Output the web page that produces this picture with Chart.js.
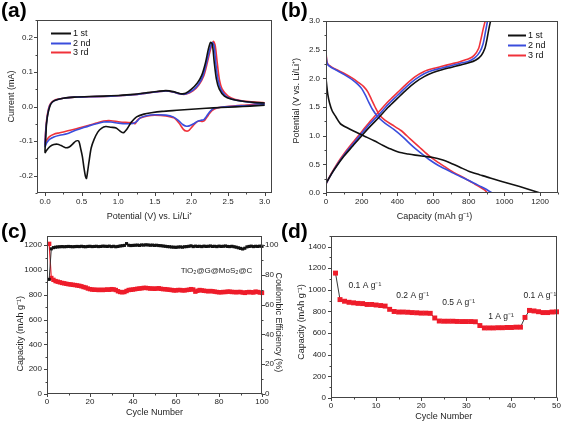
<!DOCTYPE html>
<html><head><meta charset="utf-8">
<script src="https://cdn.jsdelivr.net/npm/chart.js@4.4.1/dist/chart.umd.min.js"></script>
<style>
html,body{margin:0;padding:0;background:#fff;}
#wrap{position:relative;width:564px;height:423px;overflow:hidden;background:#fff;}
canvas{position:absolute;}
.lbl{position:absolute;font:bold 21px "Liberation Sans",Arial,sans-serif;color:#000;line-height:21px;}
</style></head><body>
<div id="wrap">
<canvas id="ca" width="282" height="226" style="left:0;top:0"></canvas>
<canvas id="cb" width="282" height="226" style="left:282px;top:0"></canvas>
<canvas id="cc" width="300" height="197" style="left:0;top:226px"></canvas>
<canvas id="cd" width="282" height="197" style="left:282px;top:226px"></canvas>
<div class="lbl" style="left:1px;top:-1px">(a)</div>
<div class="lbl" style="left:281px;top:-1px">(b)</div>
<div class="lbl" style="left:1px;top:220px">(c)</div>
<div class="lbl" style="left:281px;top:220px">(d)</div>
</div>
<script>
// ---------- DATA ----------
// (a) CV curves: potential (V) and current (mA), cathodic 3.0 -> 0 then anodic 0 -> 3.0
const cv1V = [3.0,2.8,2.6,2.4,2.2,2.0,1.8,1.6,1.45,1.35,1.25,1.18,1.12,1.07,1.03,0.97,0.9,0.83,0.77,0.72,0.67,0.63,0.6,0.58,0.565,0.55,0.53,0.51,0.49,0.46,0.42,0.38,0.33,0.28,0.22,0.17,0.12,0.07,0.03,0.0,
  0.01,0.02,0.04,0.07,0.1,0.15,0.25,0.4,0.6,0.8,1.0,1.2,1.4,1.55,1.65,1.75,1.85,1.92,2.0,2.08,2.14,2.19,2.23,2.26,2.285,2.31,2.34,2.38,2.45,2.55,2.7,2.85,3.0];
const cv1I = [0.004,0.001,-0.001,-0.003,-0.005,-0.008,-0.011,-0.014,-0.018,-0.022,-0.03,-0.045,-0.065,-0.076,-0.072,-0.062,-0.06,-0.058,-0.063,-0.074,-0.095,-0.12,-0.16,-0.19,-0.208,-0.2,-0.175,-0.145,-0.125,-0.1,-0.1,-0.108,-0.117,-0.119,-0.113,-0.109,-0.11,-0.115,-0.124,-0.133,
  -0.09,-0.05,-0.02,0.003,0.013,0.019,0.024,0.027,0.029,0.03,0.032,0.035,0.04,0.044,0.046,0.043,0.037,0.038,0.05,0.068,0.09,0.125,0.165,0.185,0.18,0.13,0.08,0.05,0.03,0.021,0.015,0.012,0.01];
const cv2V = [3.0,2.8,2.6,2.4,2.3,2.25,2.2,2.17,2.13,2.08,2.03,1.97,1.93,1.88,1.82,1.75,1.65,1.5,1.4,1.3,1.25,1.2,1.1,1.0,0.9,0.8,0.7,0.6,0.5,0.4,0.3,0.2,0.12,0.06,0.02,0.0,
  0.01,0.03,0.06,0.1,0.15,0.25,0.4,0.6,0.8,1.0,1.2,1.4,1.55,1.65,1.75,1.85,1.93,2.02,2.1,2.16,2.21,2.25,2.285,2.31,2.33,2.36,2.4,2.47,2.57,2.7,2.85,3.0];
const cv2I = [0.006,0.003,0.001,-0.002,-0.006,-0.015,-0.03,-0.038,-0.04,-0.043,-0.05,-0.056,-0.057,-0.052,-0.04,-0.03,-0.025,-0.024,-0.026,-0.033,-0.044,-0.049,-0.05,-0.048,-0.045,-0.045,-0.05,-0.056,-0.063,-0.07,-0.079,-0.083,-0.088,-0.095,-0.106,-0.116,
  -0.07,-0.03,0.0,0.013,0.019,0.024,0.027,0.028,0.029,0.031,0.034,0.039,0.043,0.045,0.042,0.036,0.037,0.047,0.065,0.09,0.13,0.165,0.185,0.175,0.13,0.08,0.05,0.03,0.02,0.015,0.011,0.008];
const cv3V = [3.0,2.8,2.6,2.45,2.35,2.28,2.23,2.18,2.15,2.11,2.07,2.02,1.97,1.93,1.89,1.83,1.76,1.65,1.5,1.4,1.3,1.26,1.23,1.2,1.1,1.0,0.9,0.8,0.7,0.6,0.5,0.4,0.3,0.2,0.12,0.06,0.02,0.0,
  0.01,0.03,0.06,0.1,0.15,0.25,0.4,0.6,0.8,1.0,1.2,1.4,1.55,1.65,1.75,1.85,1.93,2.02,2.1,2.17,2.22,2.26,2.3,2.325,2.35,2.38,2.42,2.5,2.6,2.75,2.9,3.0];
const cv3I = [0.01,0.005,0.002,-0.001,-0.004,-0.012,-0.025,-0.04,-0.043,-0.042,-0.045,-0.056,-0.068,-0.071,-0.066,-0.048,-0.033,-0.027,-0.025,-0.027,-0.033,-0.04,-0.05,-0.047,-0.046,-0.044,-0.041,-0.042,-0.048,-0.054,-0.06,-0.066,-0.071,-0.076,-0.08,-0.087,-0.098,-0.11,
  -0.065,-0.025,0.003,0.014,0.02,0.024,0.027,0.028,0.029,0.031,0.034,0.039,0.043,0.045,0.042,0.036,0.036,0.045,0.062,0.09,0.13,0.165,0.188,0.175,0.13,0.08,0.05,0.03,0.02,0.015,0.012,0.011];

// (b) galvanostatic curves: capacity (mAh/g) and potential (V)
const b1DisC = [0,4,10,20,35,55,80,110,175,230,270,320,360,410,460,500,550,600,650,700,750,800,860,920,980,1050,1120,1200];
const b1DisV = [2.0,1.88,1.72,1.57,1.43,1.33,1.21,1.15,1.05,0.97,0.91,0.83,0.77,0.71,0.68,0.66,0.64,0.62,0.58,0.52,0.45,0.38,0.32,0.26,0.205,0.145,0.08,0.0];
const b1ChgC = [0,10,30,60,100,150,200,250,300,350,400,450,500,550,600,650,700,750,800,840,870,890,902,912,922];
const b1ChgV = [0.17,0.22,0.33,0.47,0.64,0.82,1.0,1.17,1.33,1.5,1.65,1.8,1.93,2.03,2.1,2.15,2.19,2.23,2.27,2.32,2.4,2.52,2.68,2.85,3.0];
const b2DisC = [0,2,5,12,30,60,100,150,180,200,220,240,260,290,330,380,430,480,530,580,630,680,730,780,830,870,900,930];
const b2DisV = [2.42,2.35,2.28,2.23,2.19,2.14,2.07,1.97,1.89,1.82,1.71,1.58,1.46,1.33,1.22,1.11,0.98,0.83,0.7,0.58,0.48,0.4,0.32,0.25,0.17,0.11,0.06,0.0];
const b2ChgC = [0,10,30,60,100,150,200,250,300,350,400,450,500,550,600,650,700,750,800,835,862,880,893,905];
const b2ChgV = [0.16,0.22,0.33,0.48,0.66,0.85,1.04,1.22,1.38,1.55,1.7,1.85,1.98,2.08,2.14,2.18,2.22,2.26,2.3,2.36,2.46,2.6,2.8,3.0];
const b3DisC = [0,2,5,12,30,60,100,150,185,210,235,255,275,300,330,370,420,470,520,570,620,670,720,770,820,860,890,905];
const b3DisV = [2.47,2.38,2.3,2.24,2.2,2.15,2.09,2.0,1.92,1.86,1.76,1.63,1.5,1.36,1.27,1.19,1.09,0.95,0.81,0.67,0.55,0.45,0.35,0.27,0.18,0.11,0.05,0.0];
const b3ChgC = [0,10,30,60,100,150,200,250,300,350,400,450,500,550,600,650,700,750,800,830,855,868,880,892];
const b3ChgV = [0.15,0.22,0.34,0.5,0.68,0.88,1.07,1.26,1.43,1.6,1.75,1.9,2.03,2.12,2.17,2.21,2.25,2.29,2.34,2.4,2.52,2.68,2.85,3.0];

// (c) cycling at constant current
const cCycles = [1,2,3,4,5,6,7,8,9,10,11,12,13,14,15,16,17,18,19,20,21,22,23,24,25,26,27,28,29,30,31,32,33,34,35,36,37,38,39,40,
  41,42,43,44,45,46,47,48,49,50,51,52,53,54,55,56,57,58,59,60,61,62,63,64,65,66,67,68,69,70,71,72,73,74,75,76,77,78,79,80,
  81,82,83,84,85,86,87,88,89,90,91,92,93,94,95,96,97,98,99,100];
const cCapacity = [1210,935,920,910,905,900,895,892,888,885, 883,880,878,875,872,868,862,858,850,845,
  842,840,840,838,840,838,840,842,840,845, 843,838,828,822,820,822,830,838,840,842,
  845,848,850,852,855,855,853,850,850,848, 850,852,848,845,845,842,840,838,835,835,
  838,838,835,835,838,840,845,842,825,832, 838,835,832,830,828,830,828,825,822,820,
  820,822,822,825,825,822,822,820,822,822, 818,815,820,822,820,818,825,822,818,815];
const cEfficiency = [77,97.5,98.3,98.6,98.8,98.9,99.0,98.9,99.0,99.1, 99.0,98.9,99.0,99.1,99.0,99.2,99.0,98.9,99.1,99.2,
  99.0,99.1,99.2,99.0,99.1,99.3,99.2,99.1,99.3,99.0, 99.2,98.9,99.1,99.4,99.6,99.8,101.0,99.9,99.7,99.8,
  99.9,100.0,99.8,100.1,100.0,100.2,100.1,99.9,100.0,99.8, 99.9,99.7,99.6,99.4,99.2,99.0,98.9,98.7,98.6,98.5,
  98.7,98.8,98.6,98.9,99.0,99.2,99.5,99.0,99.3,99.1, 99.2,99.0,99.3,99.1,99.2,99.4,99.1,99.2,99.0,99.3,
  99.1,99.2,99.4,99.1,99.0,99.2,98.9,98.6,98.2,97.8, 97.4,97.9,98.8,99.1,99.3,99.0,99.2,99.1,99.3,99.2];

// (d) rate capability
const dCycles = [1,2,3,4,5,6,7,8,9,10,11,12,13,14,15,16,17,18,19,20,21,22,23,24,25,26,27,28,29,30,31,32,33,34,35,36,37,38,39,40,41,42,43,44,45,46,47,48,49,50];
const dCapacity = [1155,910,895,885,880,875,873,865,865,860,855,850,820,800,795,795,793,790,788,785,785,783,740,712,710,710,710,708,707,707,707,705,670,648,648,648,650,650,652,652,655,655,745,810,805,798,790,790,795,797];
const dRateLabels = ['0.1 A g\u207B\u00B9','0.2 A g\u207B\u00B9','0.5 A g\u207B\u00B9','1 A g\u207B\u00B9','0.1 A g\u207B\u00B9'];
const legendNames = ['1 st','2 nd','3 rd'];

// ---------- STYLE / HELPERS ----------
const FONT = '"Liberation Sans", Arial, Helvetica, sans-serif';
const TXT = '#1e1e1e';
const AX = '#444444';
const BLACK = '#111111', BLUE = '#3a4ddc', RED = '#f0323a', SQRED = '#ee1c2a';
const TICK_SIZE = 8, TITLE_SIZE = 9;
Chart.defaults.font.family = FONT;
Chart.defaults.color = TXT;

const pts = (xs, ys) => xs.map((x, i) => ({x: x, y: ys[i]}));

function lin(o) {
  return {
    type: 'linear', position: o.pos, min: o.min, max: o.max,
    grid: {display: false, drawTicks: false}, border: {display: false},
    ticks: {stepSize: o.minor, includeBounds: false, autoSkip: false, maxRotation: 0, minRotation: 0,
      padding: o.lpad, font: {size: TICK_SIZE}, color: TXT,
      callback: (v) => (Math.abs(v / o.major - Math.round(v / o.major)) < 1e-6 ? Number(v).toFixed(o.dec) : '')},
    title: {display: true, text: o.title, font: {size: TITLE_SIZE}, color: TXT, padding: {top: o.tpad, bottom: o.tpad}},
    afterFit: (s) => { if (s.isHorizontal()) s.height = o.size; else s.width = o.size; }
  };
}

const frameTicks = {
  id: 'frameTicks',
  afterDraw(chart) {
    const {ctx, chartArea: a} = chart;
    ctx.save();
    ctx.strokeStyle = AX; ctx.lineWidth = 1;
    const L = Math.round(a.left) + 0.5, R = Math.round(a.right) - 0.5, T = Math.round(a.top) + 0.5, B = Math.round(a.bottom) - 0.5;
    ctx.strokeRect(L, T, R - L, B - T);
    ctx.beginPath();
    Object.values(chart.scales).forEach(s => {
      const p = s.options.position;
      s.ticks.forEach(t => {
        const len = t.label ? 3.5 : 2;
        const q = Math.round(s.getPixelForValue(t.value)) + 0.5;
        if (p === 'bottom') { ctx.moveTo(q, B); ctx.lineTo(q, B + len); }
        else if (p === 'left') { ctx.moveTo(L, q); ctx.lineTo(L - len, q); }
        else if (p === 'right') { ctx.moveTo(R, q); ctx.lineTo(R + len, q); }
      });
    });
    ctx.stroke();
    ctx.restore();
  }
};

function insetLegend(cfg) {
  return {
    id: 'insetLegend',
    afterDraw(chart) {
      const {ctx, chartArea: a} = chart;
      ctx.save();
      ctx.font = cfg.size + 'px ' + FONT;
      ctx.textBaseline = 'middle'; ctx.textAlign = 'left';
      cfg.items.forEach((it, i) => {
        const y = Math.round(a.top + cfg.y + i * cfg.row) + 0.5;
        ctx.strokeStyle = it.color; ctx.lineWidth = 2;
        ctx.beginPath(); ctx.moveTo(a.left + cfg.x, y); ctx.lineTo(a.left + cfg.x + cfg.len, y); ctx.stroke();
        ctx.fillStyle = '#111';
        ctx.fillText(it.text, a.left + cfg.x + cfg.len + cfg.gap, y);
      });
      ctx.restore();
    }
  };
}

function dataText(items) {
  return {
    id: 'dataText',
    afterDatasetsDraw(chart) {
      const {ctx} = chart;
      ctx.save();
      items.forEach(it => {
        ctx.font = it.size + 'px ' + FONT;
        ctx.fillStyle = TXT;
        ctx.textAlign = it.align || 'center';
        ctx.textBaseline = 'middle';
        ctx.fillText(it.text, chart.scales.x.getPixelForValue(it.x), chart.scales[it.axis || 'y'].getPixelForValue(it.y));
      });
      ctx.restore();
    }
  };
}

const baseOpts = (pad) => ({
  responsive: false, animation: false, devicePixelRatio: 1,
  layout: {padding: pad},
  plugins: {legend: {display: false}, tooltip: {enabled: false}},
  events: []
});
const lineDs = (data, color) => ({data: data, showLine: true, borderColor: color, borderWidth: 1.6, pointRadius: 0, tension: 0.25, fill: false});

// ---------- (a) ----------
new Chart(document.getElementById('ca'), {
  type: 'scatter',
  data: {datasets: [lineDs(pts(cv1V, cv1I), BLACK), lineDs(pts(cv2V, cv2I), BLUE), lineDs(pts(cv3V, cv3I), RED)]},
  options: Object.assign(baseOpts({left: 0, top: 20, right: 10, bottom: 0}), {
    scales: {
      x: lin({pos: 'bottom', min: -0.11, max: 3.1, minor: 0.25, major: 0.5, dec: 1, lpad: 4, size: 33, tpad: 4.5,
        title: 'Potential (V) vs. Li/Li\u207A    '}),
      y: lin({pos: 'left', min: -0.25, max: 0.25, minor: 0.05, major: 0.1, dec: 1, lpad: 4, size: 37, tpad: 6.5,
        title: '        Current (mA)'})
    }
  }),
  plugins: [frameTicks, insetLegend({x: 14, y: 13, row: 9.7, len: 20, gap: 2, size: 9,
    items: [{text: legendNames[0], color: BLACK}, {text: legendNames[1], color: BLUE}, {text: legendNames[2], color: RED}]})]
});

// ---------- (b) ----------
new Chart(document.getElementById('cb'), {
  type: 'scatter',
  data: {datasets: [
    lineDs(pts(b1DisC, b1DisV), BLACK), lineDs(pts(b1ChgC, b1ChgV), BLACK),
    lineDs(pts(b2DisC, b2DisV), BLUE), lineDs(pts(b2ChgC, b2ChgV), BLUE),
    lineDs(pts(b3DisC, b3DisV), RED), lineDs(pts(b3ChgC, b3ChgV), RED)]},
  options: Object.assign(baseOpts({left: 0, top: 21, right: 6, bottom: 0}), {
    scales: {
      x: lin({pos: 'bottom', min: 0, max: 1300, minor: 100, major: 200, dec: 0, lpad: 4, size: 33, tpad: 4.5,
        title: 'Capacity (mAh g\u207B\u00B9)      '}),
      y: lin({pos: 'left', min: 0, max: 3.0, minor: 0.25, major: 0.5, dec: 1, lpad: 6, size: 44, tpad: 9.5,
        title: '     Potential (V vs. Li/Li\u207A)'})
    }
  }),
  plugins: [frameTicks, insetLegend({x: 182, y: 14, row: 10, len: 18, gap: 2, size: 9,
    items: [{text: legendNames[0], color: BLACK}, {text: legendNames[1], color: BLUE}, {text: legendNames[2], color: RED}]})]
});

// ---------- (c) ----------
new Chart(document.getElementById('cc'), {
  type: 'scatter',
  data: {datasets: [
    {data: pts(cCycles, cEfficiency), yAxisID: 'y1', showLine: true, borderColor: '#333', borderWidth: 1,
      pointStyle: 'rect', pointRadius: 2.2, pointBackgroundColor: '#111', pointBorderWidth: 0, clip: false},
    {data: pts(cCycles, cCapacity), yAxisID: 'y', showLine: true, borderColor: SQRED, borderWidth: 1.2,
      pointStyle: 'rect', pointRadius: 3.1, pointBackgroundColor: SQRED, pointBorderWidth: 0, clip: false}
  ]},
  options: Object.assign(baseOpts({left: 0, top: 5, right: 0, bottom: 0}), {
    scales: {
      x: lin({pos: 'bottom', min: 0, max: 100, minor: 10, major: 20, dec: 0, lpad: 3, size: 29, tpad: 5.5,
        title: 'Cycle Number'}),
      y: lin({pos: 'left', min: 0, max: 1275, minor: 100, major: 200, dec: 0, lpad: 5, size: 47, tpad: 15.5,
        title: 'Capacity (mAh g\u207B\u00B9)               '}),
      y1: lin({pos: 'right', min: 0, max: 106.25, minor: 10, major: 20, dec: 0, lpad: 3, size: 38, tpad: 16.5,
        title: '      Coulombic Efficiency (%)'})
    }
  }),
  plugins: [frameTicks, dataText([{text: 'TiO\u2082@G@MoS\u2082@C', x: 95.5, y: 995, size: 8, align: 'right'}])]
});

// ---------- (d) ----------
new Chart(document.getElementById('cd'), {
  type: 'scatter',
  data: {datasets: [
    {data: pts(dCycles, dCapacity), showLine: true, borderColor: '#222', borderWidth: 0.9,
      pointStyle: 'rect', pointRadius: 3.5, pointBackgroundColor: SQRED, pointBorderWidth: 0, clip: false}
  ]},
  options: Object.assign(baseOpts({left: 0, top: 5, right: 7, bottom: 0}), {
    scales: {
      x: lin({pos: 'bottom', min: 0, max: 50, minor: 5, major: 10, dec: 0, lpad: 3, size: 25, tpad: 1.5,
        title: 'Cycle Number'}),
      y: lin({pos: 'left', min: 0, max: 1500, minor: 100, major: 200, dec: 0, lpad: 5, size: 49, tpad: 14.5,
        title: 'Capacity (mAh g\u207B\u00B9)    '})
    }
  }),
  plugins: [frameTicks, dataText([
    {text: dRateLabels[0], x: 7.5, y: 1040, size: 8.5},
    {text: dRateLabels[1], x: 18.1, y: 948, size: 8.5},
    {text: dRateLabels[2], x: 28.3, y: 880, size: 8.5},
    {text: dRateLabels[3], x: 37.7, y: 755, size: 8.5},
    {text: dRateLabels[4], x: 46.3, y: 948, size: 8.5}
  ])]
});
</script>
</body></html>
